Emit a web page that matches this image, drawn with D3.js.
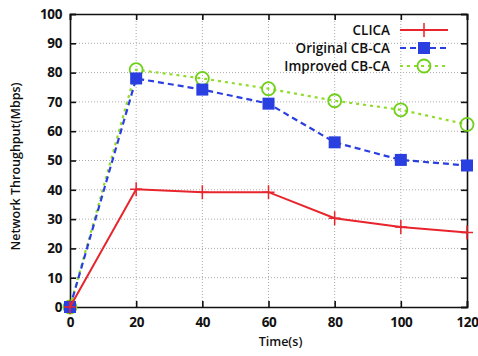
<!DOCTYPE html>
<html>
<head>
<meta charset="utf-8">
<script src="https://cdn.jsdelivr.net/npm/d3@7"></script>
<style>
  body { margin: 0; background: #fff; }
  svg text { font-family: "Open Sans", "Liberation Sans", sans-serif; font-weight: 600; fill: #111; }
</style>
</head>
<body>
<div id="chart"></div>
<script>
const width = 478, height = 356;
const margin = {top: 14, right: 11, bottom: 49, left: 70};

// data
const times = [0, 20, 40, 60, 80, 100, 120];
const clica = [0, 40.2, 39.2, 39.2, 30.3, 27.3, 25.4];
const originalCBCA = [0, 78, 74.2, 69.4, 56.2, 50.2, 48.3];
const improvedCBCA = [0, 81, 78, 74.5, 70.4, 67.3, 62.3];
const xTicks = [0, 20, 40, 60, 80, 100, 120];
const yTicks = [0, 10, 20, 30, 40, 50, 60, 70, 80, 90, 100];
const seriesNames = ["CLICA", "Original CB-CA", "Improved CB-CA"];

const series = [
  {name: seriesNames[0], values: clica, color: "#e8242c", dash: null, marker: "plus"},
  {name: seriesNames[1], values: originalCBCA, color: "#2a3fe0", dash: "6,4", marker: "square"},
  {name: seriesNames[2], values: improvedCBCA, color: "#8fdc2a", dash: "3,4", marker: "circle"}
];

const svg = d3.select("#chart").append("svg")
  .attr("width", width).attr("height", height);

const x = d3.scaleLinear().domain([0, 120]).range([margin.left, width - margin.right]);
const y = d3.scaleLinear().domain([0, 100]).range([height - margin.bottom, margin.top]);

// grid
const grid = svg.append("g").attr("stroke", "#aaa").attr("stroke-dasharray", "1,2").attr("stroke-width", 1);
grid.selectAll(".gx").data(xTicks.slice(1, -1)).enter().append("line")
  .attr("x1", d => x(d)).attr("x2", d => x(d))
  .attr("y1", y(0)).attr("y2", y(100));
grid.selectAll(".gy").data(yTicks.slice(1, -1)).enter().append("line")
  .attr("x1", x(0)).attr("x2", x(120))
  .attr("y1", d => y(d)).attr("y2", d => y(d));

// axes
svg.append("g")
  .attr("transform", `translate(0, ${y(0)})`)
  .call(d3.axisBottom(x).tickValues(xTicks).tickSize(-6).tickPadding(10));
svg.append("g")
  .attr("transform", `translate(${x(0)}, 0)`)
  .call(d3.axisLeft(y).tickValues(yTicks).tickSize(-6).tickPadding(8));
svg.append("g")
  .attr("transform", `translate(0, ${y(100)})`)
  .call(d3.axisTop(x).tickValues(xTicks).tickSize(-6).tickFormat(""));
svg.append("g")
  .attr("transform", `translate(${x(120)}, 0)`)
  .call(d3.axisRight(y).tickValues(yTicks).tickSize(-6).tickFormat(""));
svg.selectAll(".domain").attr("stroke", "#111").attr("stroke-width", 1.6);
svg.selectAll(".tick line").attr("stroke", "#111").attr("stroke-width", 1.6);
svg.selectAll(".tick text").style("font-size", "13.5px").style("font-weight", 700)
  .style("letter-spacing", "-0.4px");

// axis titles
svg.append("text")
  .attr("x", (x(0) + x(120)) / 2 + 12).attr("y", height - 10)
  .attr("text-anchor", "middle").style("font-size", "12.5px")
  .text("Time(s)");
svg.append("text")
  .attr("transform", `translate(20, ${(y(0) + y(100)) / 2 + 6}) rotate(-90)`)
  .attr("text-anchor", "middle").style("font-size", "12.5px")
  .text("Network Throughput(Mbps)");

function drawMarker(g, type, color) {
  if (type === "plus") {
    g.append("path").attr("d", "M-6,0H6M0,-7V7").attr("stroke", color).attr("stroke-width", 1.5);
  } else if (type === "square") {
    g.append("rect").attr("x", -6).attr("y", -6).attr("width", 12).attr("height", 12).attr("fill", color);
  } else {
    g.append("circle").attr("r", 6.5).attr("fill", "none").attr("stroke", "#6fd01a").attr("stroke-width", 1.8);
  }
}

const line = d3.line().x((d, i) => x(times[i])).y(d => y(d));

series.slice().reverse().forEach(s => {
  svg.append("path")
    .datum(s.values)
    .attr("d", line)
    .attr("fill", "none")
    .attr("stroke", s.color)
    .attr("stroke-width", s.marker === "plus" ? 2 : 2.2)
    .attr("stroke-dasharray", s.dash);
  s.values.forEach((v, i) => {
    const g = svg.append("g").attr("transform", `translate(${x(times[i])}, ${y(v)})`);
    drawMarker(g, s.marker, s.color);
  });
});

// legend
const legend = svg.append("g");
series.forEach((s, i) => {
  const ly = 30 + i * 18;
  legend.append("text")
    .attr("x", 390).attr("y", ly + 5)
    .attr("text-anchor", "end").style("font-size", "13.5px")
    .text(s.name);
  legend.append("line")
    .attr("x1", 400).attr("x2", 448).attr("y1", ly).attr("y2", ly)
    .attr("stroke", s.color).attr("stroke-width", 2)
    .attr("stroke-dasharray", s.dash);
  drawMarker(legend.append("g").attr("transform", `translate(424, ${ly})`), s.marker, s.color);
});
</script>
</body>
</html>
